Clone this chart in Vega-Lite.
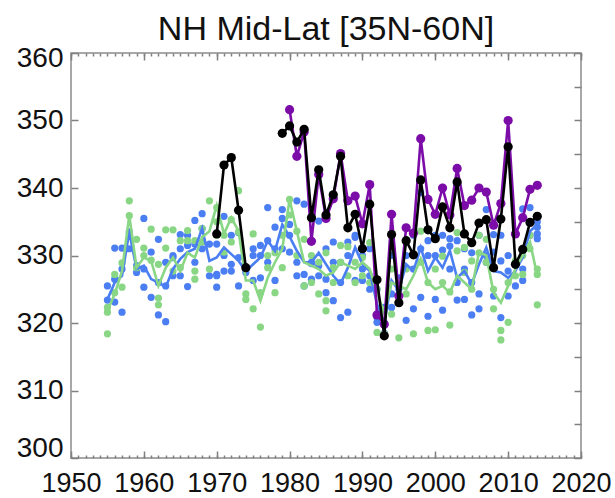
{
"$schema":"https://vega.github.io/schema/vega-lite/v6.json",
"width":510,"height":405,
"autosize":{"type":"none"},
"padding":{"left":71,"top":53,"right":34,"bottom":40},
"title":{"text":"NH Mid-Lat [35N-60N]","fontSize":34,"font":"Liberation Sans","fontWeight":"normal","anchor":"middle","offset":-3,"color":"#111111"},
"config":{"view":{"stroke":"#8c8c8c","strokeWidth":1.5},
"axis":{"domain":false,"grid":false,"title":null,"labelFont":"Liberation Sans","labelFontSize":28,"labelColor":"#111111","tickColor":"#808080","tickWidth":1.5,"labelOverlap":false,"labelBound":false}},
"datasets":{
"bluePts":[
{"year":1955,"value":325.5},{"year":1955,"value":323.4},
{"year":1956,"value":331.1},{"year":1956,"value":323.1},{"year":1956,"value":326.5},
{"year":1957,"value":331.1},{"year":1957,"value":321.6},{"year":1957,"value":328},
{"year":1958,"value":333.5},{"year":1958,"value":331},
{"year":1959,"value":327.5},{"year":1959,"value":328.5},
{"year":1960,"value":335.5},{"year":1960,"value":325.3},{"year":1960,"value":328},
{"year":1961,"value":330.5},{"year":1961,"value":323.8},
{"year":1962,"value":332.4},{"year":1962,"value":321.2},{"year":1962,"value":326},
{"year":1963,"value":320.2},{"year":1963,"value":325.5},{"year":1963,"value":329},
{"year":1964,"value":329.7},{"year":1964,"value":327},{"year":1964,"value":330},
{"year":1965,"value":333.1},{"year":1965,"value":327},{"year":1965,"value":331},
{"year":1966,"value":325.4},{"year":1966,"value":331.5},{"year":1966,"value":333},
{"year":1967,"value":335.2},{"year":1967,"value":331.7},{"year":1967,"value":329},
{"year":1968,"value":336.2},{"year":1968,"value":334},{"year":1968,"value":331},
{"year":1969,"value":331.7},{"year":1969,"value":327},
{"year":1970,"value":327},{"year":1970,"value":325.3},{"year":1970,"value":331.7},{"year":1970,"value":327.2},
{"year":1971,"value":335.8},{"year":1971,"value":327.7},{"year":1971,"value":330},
{"year":1972,"value":327.7},{"year":1972,"value":328.7},{"year":1972,"value":333},
{"year":1973,"value":333.4},{"year":1973,"value":329.7},{"year":1973,"value":325.5},
{"year":1974,"value":328},{"year":1974,"value":327.5},
{"year":1975,"value":326.3},{"year":1975,"value":330},{"year":1975,"value":331},
{"year":1976,"value":331.5},{"year":1976,"value":326.7},{"year":1976,"value":330},
{"year":1977,"value":337.1},{"year":1977,"value":332.2},{"year":1977,"value":329},
{"year":1978,"value":334.2},{"year":1978,"value":326.3},{"year":1978,"value":331},
{"year":1979,"value":336.8},{"year":1979,"value":335.5},{"year":1979,"value":331},
{"year":1980,"value":330.5},{"year":1980,"value":334.6},{"year":1980,"value":333},
{"year":1981,"value":338.1},{"year":1981,"value":329},{"year":1981,"value":327},
{"year":1982,"value":337.6},{"year":1982,"value":327.2},{"year":1982,"value":325.5},
{"year":1983,"value":328.8},{"year":1983,"value":326.5},{"year":1983,"value":329},
{"year":1984,"value":335.1},{"year":1984,"value":328.5},{"year":1984,"value":327},
{"year":1985,"value":326.5},{"year":1985,"value":331},{"year":1985,"value":324.5},
{"year":1986,"value":323.3},{"year":1986,"value":329},{"year":1986,"value":332},
{"year":1987,"value":320.8},{"year":1987,"value":326},{"year":1987,"value":329},
{"year":1988,"value":321.6},{"year":1988,"value":330},{"year":1988,"value":332},
{"year":1989,"value":332.7},{"year":1989,"value":326.3},{"year":1989,"value":333},
{"year":1990,"value":326.3},{"year":1990,"value":330},{"year":1990,"value":328},
{"year":1991,"value":331},{"year":1991,"value":327},{"year":1991,"value":325},
{"year":1992,"value":320.8},{"year":1992,"value":320.1},{"year":1992,"value":325},
{"year":1993,"value":322.3},{"year":1993,"value":318.5},{"year":1993,"value":320},
{"year":1994,"value":324.3},{"year":1994,"value":322.3},{"year":1994,"value":330},
{"year":1995,"value":326.7},{"year":1995,"value":323},{"year":1995,"value":325},
{"year":1996,"value":320.4},{"year":1996,"value":332},{"year":1996,"value":330},
{"year":1997,"value":322.1},{"year":1997,"value":328},{"year":1997,"value":333},
{"year":1998,"value":323.8},{"year":1998,"value":339.3},{"year":1998,"value":331},
{"year":1999,"value":332.2},{"year":1999,"value":321},{"year":1999,"value":330},
{"year":2000,"value":323.5},{"year":2000,"value":330},{"year":2000,"value":333},
{"year":2001,"value":330.8},{"year":2001,"value":321.9},{"year":2001,"value":333},
{"year":2002,"value":331.4},{"year":2002,"value":328},{"year":2002,"value":332.5},
{"year":2003,"value":332.2},{"year":2003,"value":323.4},{"year":2003,"value":326},
{"year":2004,"value":323.5},{"year":2004,"value":328},{"year":2004,"value":331},
{"year":2005,"value":321.2},{"year":2005,"value":330.4},{"year":2005,"value":326},
{"year":2006,"value":322.1},{"year":2006,"value":324.3},{"year":2006,"value":333},
{"year":2007,"value":336.8},{"year":2007,"value":330},{"year":2007,"value":329},
{"year":2008,"value":333.1},{"year":2008,"value":330.5},{"year":2008,"value":324},
{"year":2009,"value":320.8},{"year":2009,"value":329.2},{"year":2009,"value":333},
{"year":2010,"value":327.7},{"year":2010,"value":324},{"year":2010,"value":330},
{"year":2011,"value":328.7},{"year":2011,"value":325.5},
{"year":2012,"value":326.3},{"year":2012,"value":336.9},{"year":2012,"value":328},
{"year":2013,"value":337.1},{"year":2013,"value":333},{"year":2013,"value":335},
{"year":2014,"value":334.2},{"year":2014,"value":333.2},{"year":2014,"value":332.5},{"year":2014,"value":335}
],
"greenPts":[
{"year":1955,"value":318.4},{"year":1955,"value":322.3},{"year":1955,"value":321.6},
{"year":1956,"value":327.2},{"year":1956,"value":324.5},
{"year":1957,"value":328.9},{"year":1957,"value":325.3},
{"year":1958,"value":338.1},{"year":1958,"value":335.9},
{"year":1959,"value":332.4},{"year":1959,"value":328.2},
{"year":1960,"value":331.1},{"year":1960,"value":330},
{"year":1961,"value":333.9},{"year":1961,"value":329.3},
{"year":1962,"value":328.7},{"year":1962,"value":323.7},{"year":1962,"value":322.7},
{"year":1963,"value":333.8},{"year":1963,"value":331.1},
{"year":1964,"value":333.8},{"year":1964,"value":327.7},
{"year":1965,"value":332.2},{"year":1965,"value":328.2},
{"year":1966,"value":333.7},{"year":1966,"value":332.2},
{"year":1967,"value":332.2},{"year":1967,"value":327.7},{"year":1967,"value":326.5},
{"year":1968,"value":332},{"year":1968,"value":334},
{"year":1969,"value":338.1},{"year":1969,"value":328},
{"year":1970,"value":337.1},{"year":1970,"value":335},{"year":1970,"value":333},
{"year":1971,"value":333},{"year":1971,"value":330.5},
{"year":1972,"value":335.3},{"year":1972,"value":332},
{"year":1973,"value":339.6},{"year":1973,"value":333.5},
{"year":1974,"value":324.3},{"year":1974,"value":323.5},
{"year":1975,"value":333.2},{"year":1975,"value":322.1},
{"year":1976,"value":319.4},{"year":1976,"value":324.5},
{"year":1977,"value":328.2},{"year":1977,"value":330},
{"year":1978,"value":324.5},{"year":1978,"value":330.4},
{"year":1979,"value":328.2},{"year":1979,"value":333},
{"year":1980,"value":338.3},{"year":1980,"value":336},
{"year":1981,"value":333.6},{"year":1981,"value":330},
{"year":1982,"value":332.4},{"year":1982,"value":325.5},
{"year":1983,"value":326},{"year":1983,"value":330},
{"year":1984,"value":324.3},{"year":1984,"value":329},
{"year":1985,"value":323.3},{"year":1985,"value":321.8},{"year":1985,"value":330.4},
{"year":1986,"value":328.2},{"year":1986,"value":326},
{"year":1987,"value":329},{"year":1987,"value":331.5},
{"year":1988,"value":331.3},{"year":1988,"value":327},
{"year":1989,"value":326},{"year":1989,"value":329},
{"year":1990,"value":329.7},{"year":1990,"value":327},
{"year":1991,"value":331.9},{"year":1991,"value":326},
{"year":1992,"value":318.6},{"year":1992,"value":325},
{"year":1993,"value":318.4},{"year":1993,"value":322},
{"year":1994,"value":321.3},{"year":1994,"value":328},
{"year":1995,"value":317.8},{"year":1995,"value":326},
{"year":1996,"value":324.3},{"year":1996,"value":328},
{"year":1997,"value":318.4},{"year":1997,"value":330},
{"year":1998,"value":333.6},{"year":1998,"value":329},
{"year":1999,"value":318.9},{"year":1999,"value":326},
{"year":2000,"value":319},{"year":2000,"value":328},
{"year":2001,"value":329.9},{"year":2001,"value":326},
{"year":2002,"value":319.7},{"year":2002,"value":324.6},
{"year":2003,"value":333.4},{"year":2003,"value":330.7},
{"year":2004,"value":331.2},{"year":2004,"value":327.5},
{"year":2005,"value":329.2},{"year":2005,"value":325},
{"year":2006,"value":330.4},{"year":2006,"value":333},
{"year":2007,"value":332.4},{"year":2007,"value":329},
{"year":2008,"value":325},{"year":2008,"value":322.1},
{"year":2009,"value":318.9},{"year":2009,"value":317.5},
{"year":2010,"value":320.1},{"year":2010,"value":326},
{"year":2011,"value":329.2},{"year":2011,"value":327},
{"year":2012,"value":327.2},{"year":2012,"value":330},
{"year":2013,"value":333},{"year":2013,"value":331},
{"year":2014,"value":328},{"year":2014,"value":327.2},{"year":2014,"value":322.7}
],
"blueLine":[
{"year":1955,"value":323.5},{"year":1956,"value":326},{"year":1957,"value":327},{"year":1958,"value":333.5},{"year":1959,"value":328},{"year":1960,"value":328.5},{"year":1961,"value":326.5},{"year":1962,"value":326},{"year":1963,"value":325.3},{"year":1964,"value":328},{"year":1965,"value":329.5},{"year":1966,"value":330.5},{"year":1967,"value":331},{"year":1968,"value":334},{"year":1969,"value":329.2},{"year":1970,"value":329.7},{"year":1971,"value":331.2},{"year":1972,"value":330.2},{"year":1973,"value":329.2},{"year":1974,"value":327.7},{"year":1975,"value":328.7},{"year":1976,"value":329.7},{"year":1977,"value":332.2},{"year":1978,"value":330.7},{"year":1979,"value":334.6},{"year":1980,"value":332.8},{"year":1981,"value":330.7},{"year":1982,"value":329},{"year":1983,"value":329},{"year":1984,"value":330.4},{"year":1985,"value":328.7},{"year":1986,"value":327},{"year":1987,"value":325.8},{"year":1988,"value":328.2},{"year":1989,"value":331.2},{"year":1990,"value":328.7},{"year":1991,"value":327.7},{"year":1992,"value":322.8},{"year":1993,"value":320},{"year":1994,"value":326.3},{"year":1995,"value":324.8},{"year":1996,"value":328.7},{"year":1997,"value":327.7},{"year":1998,"value":331.2},{"year":1999,"value":327.7},{"year":2000,"value":329.7},{"year":2001,"value":328.2},{"year":2002,"value":330.7},{"year":2003,"value":326.7},{"year":2004,"value":327.7},{"year":2005,"value":325.8},{"year":2006,"value":328.7},{"year":2007,"value":331.2},{"year":2008,"value":327.7},{"year":2009,"value":327.5},{"year":2010,"value":326.7},{"year":2011,"value":327.7},{"year":2012,"value":329.7},{"year":2013,"value":333.6},{"year":2014,"value":334.6}
],
"greenLine":[
{"year":1955,"value":321.8},{"year":1956,"value":324.3},{"year":1957,"value":327.7},{"year":1958,"value":335.9},{"year":1959,"value":328.2},{"year":1960,"value":329.7},{"year":1961,"value":329.2},{"year":1962,"value":325.5},{"year":1963,"value":328.2},{"year":1964,"value":329.7},{"year":1965,"value":327.7},{"year":1966,"value":330.4},{"year":1967,"value":329.7},{"year":1968,"value":332.7},{"year":1969,"value":333.6},{"year":1970,"value":337.4},{"year":1971,"value":333.2},{"year":1972,"value":335.6},{"year":1973,"value":333.6},{"year":1974,"value":326.3},{"year":1975,"value":326.3},{"year":1976,"value":323.3},{"year":1977,"value":326.7},{"year":1978,"value":329},{"year":1979,"value":331},{"year":1980,"value":338.3},{"year":1981,"value":333.6},{"year":1982,"value":329},{"year":1983,"value":328.5},{"year":1984,"value":328},{"year":1985,"value":327},{"year":1986,"value":327.5},{"year":1987,"value":329},{"year":1988,"value":328.5},{"year":1989,"value":328},{"year":1990,"value":329},{"year":1991,"value":328},{"year":1992,"value":324.5},{"year":1993,"value":321.5},{"year":1994,"value":326},{"year":1995,"value":325.5},{"year":1996,"value":325},{"year":1997,"value":327},{"year":1998,"value":329.5},{"year":1999,"value":326},{"year":2000,"value":325},{"year":2001,"value":325.5},{"year":2002,"value":324.5},{"year":2003,"value":327},{"year":2004,"value":326},{"year":2005,"value":325},{"year":2006,"value":330.5},{"year":2007,"value":330},{"year":2008,"value":324.5},{"year":2009,"value":323},{"year":2010,"value":325.5},{"year":2011,"value":328},{"year":2012,"value":330},{"year":2013,"value":332},{"year":2014,"value":327}
],
"purple":[
{"year":1980,"value":351.6},{"year":1981,"value":344.7},{"year":1982,"value":348.3},{"year":1983,"value":332.1},{"year":1984,"value":342},{"year":1985,"value":335.5},{"year":1986,"value":338.4},{"year":1987,"value":345.1},{"year":1988,"value":338.1},{"year":1989,"value":338.8},{"year":1990,"value":334.7},{"year":1991,"value":340.5},{"year":1992,"value":321.2},{"year":1993,"value":319.8},{"year":1994,"value":336.1},{"year":1995,"value":324},{"year":1996,"value":334.1},{"year":1997,"value":333.3},{"year":1998,"value":347.3},{"year":1999,"value":338.3},{"year":2000,"value":336.1},{"year":2001,"value":340},{"year":2002,"value":336},{"year":2003,"value":342.9},{"year":2004,"value":337.4},{"year":2005,"value":338.2},{"year":2006,"value":340},{"year":2007,"value":339.4},{"year":2008,"value":334.5},{"year":2009,"value":337.7},{"year":2010,"value":350},{"year":2011,"value":333.2},{"year":2012,"value":335.6},{"year":2013,"value":339.8},{"year":2014,"value":340.4}
],
"black":[
{"year":1970,"value":333.2,"seg":"a"},{"year":1971,"value":343.4,"seg":"a"},{"year":1972,"value":344.5,"seg":"a"},{"year":1973,"value":336.7,"seg":"a"},{"year":1974,"value":328.2,"seg":"a"},
{"year":1979,"value":348.1,"seg":"b"},{"year":1980,"value":349.2,"seg":"b"},{"year":1981,"value":346.8,"seg":"b"},{"year":1982,"value":348.7,"seg":"b"},{"year":1983,"value":335.6,"seg":"b"},{"year":1984,"value":342.7,"seg":"b"},{"year":1985,"value":336,"seg":"b"},{"year":1986,"value":339,"seg":"b"},{"year":1987,"value":344.7,"seg":"b"},{"year":1988,"value":334.1,"seg":"b"},{"year":1989,"value":336.1,"seg":"b"},{"year":1990,"value":331,"seg":"b"},{"year":1991,"value":337.6,"seg":"b"},{"year":1992,"value":326.4,"seg":"b"},{"year":1993,"value":318.1,"seg":"b"},{"year":1994,"value":333.1,"seg":"b"},{"year":1995,"value":323,"seg":"b"},{"year":1996,"value":332.2,"seg":"b"},{"year":1997,"value":330.1,"seg":"b"},{"year":1998,"value":341.2,"seg":"b"},{"year":1999,"value":333.8,"seg":"b"},{"year":2000,"value":332.5,"seg":"b"},{"year":2001,"value":337.2,"seg":"b"},{"year":2002,"value":334.1,"seg":"b"},{"year":2003,"value":340.9,"seg":"b"},{"year":2004,"value":333.2,"seg":"b"},{"year":2005,"value":331.9,"seg":"b"},{"year":2006,"value":334.8,"seg":"b"},{"year":2007,"value":335.3,"seg":"b"},{"year":2008,"value":328.2,"seg":"b"},{"year":2009,"value":335.4,"seg":"b"},{"year":2010,"value":346.1,"seg":"b"},{"year":2011,"value":328.7,"seg":"b"},{"year":2012,"value":330.9,"seg":"b"},{"year":2013,"value":334.9,"seg":"b"},{"year":2014,"value":335.8,"seg":"b"}
]
},
"resolve":{"axis":{"x":"independent","y":"independent"}},
"layer":[
{"layer":[
{"data":{"name":"bluePts"},"mark":{"type":"circle","color":"#4a7ef2","size":52,"opacity":1},
"encoding":{
"x":{"field":"year","type":"quantitative","scale":{"domain":[1950,2020],"nice":false,"zero":false},
"axis":{"orient":"bottom","values":[1950,1960,1970,1980,1990,2000,2010,2020],
"format":"d","labelOverlap":false,"tickSize":-7,"labelPadding":19,"labelFontSize":27,"labelFlush":false}},
"y":{"field":"value","type":"quantitative","scale":{"domain":[300,360],"nice":false,"zero":false},
"axis":{"orient":"left","values":[300,305,310,315,320,325,330,335,340,345,350,355,360],"format":"d","labelOverlap":false,
"labelExpr":"datum.value % 10 === 0 ? datum.label : ''","tickSize":-7,"labelPadding":15,"labelFlush":false,
"labelOffset":{"condition":[{"test":"datum.value === 300","value":-10},{"test":"datum.value === 360","value":5}],"value":0}}}
}},
{"data":{"name":"greenPts"},"mark":{"type":"circle","color":"#89d685","size":52,"opacity":1},
"encoding":{"x":{"field":"year","type":"quantitative","scale":{"domain":[1950,2020],"nice":false,"zero":false}},
"y":{"field":"value","type":"quantitative","scale":{"domain":[300,360],"nice":false,"zero":false}}}},
{"data":{"name":"blueLine"},"mark":{"type":"line","color":"#4a7ef2","strokeWidth":2.6},
"encoding":{"x":{"field":"year","type":"quantitative"},"y":{"field":"value","type":"quantitative"}}},
{"data":{"name":"greenLine"},"mark":{"type":"line","color":"#89d685","strokeWidth":2.6},
"encoding":{"x":{"field":"year","type":"quantitative"},"y":{"field":"value","type":"quantitative"}}},
{"data":{"name":"purple"},"mark":{"type":"line","color":"#7b0ca8","strokeWidth":2.6,"point":{"filled":true,"size":85,"color":"#7b0ca8","opacity":1}},
"encoding":{"x":{"field":"year","type":"quantitative"},"y":{"field":"value","type":"quantitative"}}},
{"data":{"name":"black"},"mark":{"type":"line","color":"#000000","strokeWidth":2.6,"point":{"filled":true,"size":85,"color":"#000000","opacity":1}},
"encoding":{"x":{"field":"year","type":"quantitative"},"y":{"field":"value","type":"quantitative"},"detail":{"field":"seg"}}}
]},
{"data":{"name":"purple"},"mark":{"type":"point","opacity":0},
"encoding":{
"x":{"field":"year","type":"quantitative","scale":{"domain":[1950,2020],"nice":false,"zero":false},
"axis":{"orient":"top","labels":false,"tickSize":-3,"values":[1950,1951,1952,1953,1954,1955,1956,1957,1958,1959,1960,1961,1962,1963,1964,1965,1966,1967,1968,1969,1970,1971,1972,1973,1974,1975,1976,1977,1978,1979,1980,1981,1982,1983,1984,1985,1986,1987,1988,1989,1990,1991,1992,1993,1994,1995,1996,1997,1998,1999,2000,2001,2002,2003,2004,2005,2006,2007,2008,2009,2010,2011,2012,2013,2014,2015,2016,2017,2018,2019,2020]}},
"y":{"field":"value","type":"quantitative","scale":{"domain":[300,360],"nice":false,"zero":false},
"axis":{"orient":"right","labels":false,"values":[300,305,310,315,320,325,330,335,340,345,350,355,360],"tickSize":-7}}
}},
{"data":{"name":"purple"},"mark":{"type":"point","opacity":0},
"encoding":{
"x":{"field":"year","type":"quantitative","scale":{"domain":[1950,2020],"nice":false,"zero":false},
"axis":{"orient":"top","labels":false,"tickSize":-7,"values":[1950,1960,1970,1980,1990,2000,2010,2020]}},
"y":{"field":"value","type":"quantitative","axis":null}
}},
{"data":{"name":"purple"},"mark":{"type":"point","opacity":0},
"encoding":{
"x":{"field":"year","type":"quantitative","scale":{"domain":[1950,2020],"nice":false,"zero":false},
"axis":{"orient":"bottom","labels":false,"tickSize":-3,"values":[1950,1951,1952,1953,1954,1955,1956,1957,1958,1959,1960,1961,1962,1963,1964,1965,1966,1967,1968,1969,1970,1971,1972,1973,1974,1975,1976,1977,1978,1979,1980,1981,1982,1983,1984,1985,1986,1987,1988,1989,1990,1991,1992,1993,1994,1995,1996,1997,1998,1999,2000,2001,2002,2003,2004,2005,2006,2007,2008,2009,2010,2011,2012,2013,2014,2015,2016,2017,2018,2019,2020]}},
"y":{"field":"value","type":"quantitative","axis":null}
}}
]
}
